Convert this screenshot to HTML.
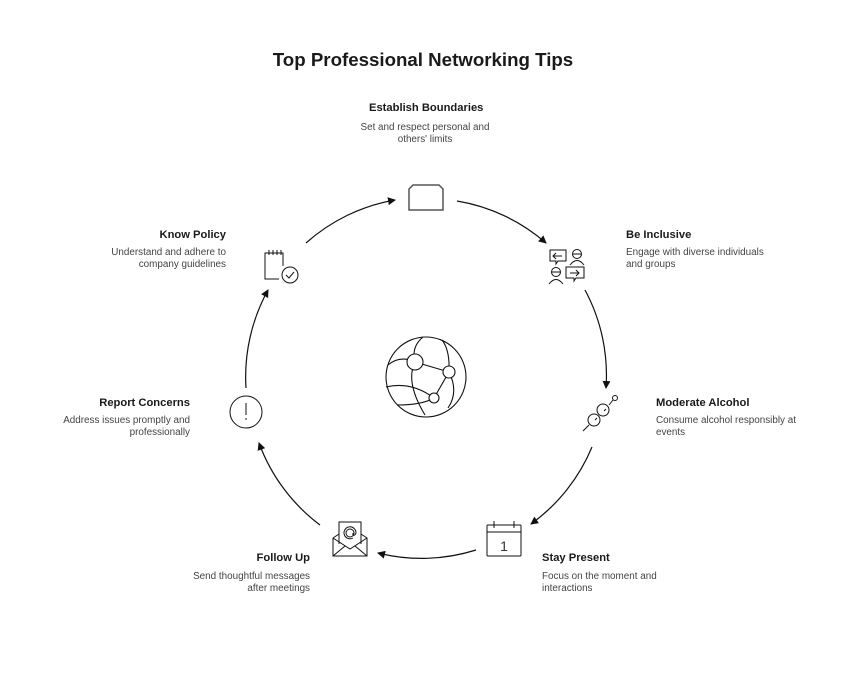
<!DOCTYPE html>
<html><head><meta charset="utf-8"><style>
html,body{margin:0;padding:0;background:#fff;}
body{width:846px;height:678px;position:relative;overflow:hidden;font-family:"Liberation Sans",Arial,sans-serif;color:#1a1a1a;}
.t{position:absolute;font-weight:bold;font-size:11.2px;}
.d{position:absolute;font-size:9.9px;color:#444;line-height:12px;}
.r{text-align:right;}
</style></head><body>
<div style="position:absolute;left:0;width:846px;top:49px;text-align:center;font-weight:bold;font-size:18.7px;">Top Professional Networking Tips</div>

<div class="t" style="left:369px;top:102px;">Establish Boundaries</div>
<div class="d" style="left:340px;width:170px;top:122px;text-align:center;">Set and respect personal and<br>others' limits</div>

<div class="t" style="left:626px;top:229px;">Be Inclusive</div>
<div class="d" style="left:626px;top:247px;">Engage with diverse individuals<br>and groups</div>

<div class="t" style="left:656px;top:397px;">Moderate Alcohol</div>
<div class="d" style="left:656px;top:415px;">Consume alcohol responsibly at<br>events</div>

<div class="t" style="left:542px;top:552px;">Stay Present</div>
<div class="d" style="left:542px;top:571px;">Focus on the moment and<br>interactions</div>

<div class="t r" style="right:536px;top:552px;">Follow Up</div>
<div class="d r" style="right:536px;top:571px;">Send thoughtful messages<br>after meetings</div>

<div class="t r" style="right:656px;top:397px;">Report Concerns</div>
<div class="d r" style="right:656px;top:415px;">Address issues promptly and<br>professionally</div>

<div class="t r" style="right:620px;top:229px;">Know Policy</div>
<div class="d r" style="right:620px;top:247px;">Understand and adhere to<br>company guidelines</div>

<svg width="846" height="678" style="position:absolute;left:0;top:0" fill="none" stroke="#111" stroke-width="1.2">
<defs><marker id="a" markerWidth="8" markerHeight="8" refX="7" refY="4" orient="auto" markerUnits="userSpaceOnUse"><path d="M0,0 L8,4 L0,8z" fill="#111" stroke="none"/></marker></defs>
<g marker-end="url(#a)">
<path d="M306,243 A180,180 0 0 1 395,200"/>
<path d="M457,201 A180,180 0 0 1 546,243"/>
<path d="M585,290 A180,180 0 0 1 606,388"/>
<path d="M592,447 A180,180 0 0 1 531,524"/>
<path d="M476,550 A180,180 0 0 1 378,553"/>
<path d="M320,525 A180,180 0 0 1 259,443"/>
<path d="M246,388 A180,180 0 0 1 268,290"/>
</g>
<path d="M409,210 V189 L413,185 H439 L443,189 V210 Z" stroke="#555" stroke-width="1.5"/>
<g stroke-width="1">
<path d="M550,250 h16 v11 h-8 l-2,3 v-3 h-6z"/><path d="M562,256 h-9 m3,-3 l-3,3 3,3"/>
<circle cx="577" cy="254" r="4.5"/><path d="M572.5,254 h9 M570,265 q7,-9 14,0"/>
<path d="M566,267 h18 v11 h-8 l-2,3 v-3 h-8z"/><path d="M570,273 h9 m-3,-3 l3,3 -3,3"/>
<circle cx="556" cy="272" r="4.5"/><path d="M551.5,272 h9 M549,284 q7,-9 14,0"/>
</g>
<g stroke-width="1"><circle cx="603" cy="410" r="6"/><circle cx="594" cy="420" r="6"/><circle cx="615" cy="398" r="2.5"/><path d="M613,400 L609,405 M589,425 L583,431 M597,418 l-2,2 M606,409 l-2,2"/></g>
<g stroke-width="1"><rect x="487" y="525" width="34" height="31" rx="1"/><path d="M487,532 h34 M494,521 v7 M514,521 v7"/></g>
<text x="504" y="551" font-size="14" fill="#333" stroke="none" text-anchor="middle" font-family="Liberation Sans">1</text>
<g stroke-width="1"><path d="M333,538 v18 h34 v-18 l-6,-4 M333,538 l6,-4 M333,538 l17,11 17,-11 M333,556 l12,-10 M367,556 l-12,-10"/><path d="M339,544 v-22 h22 v22"/><circle cx="350" cy="533" r="4"/><path d="M353,533 v2 q2,1 3,-2 a6,6 0 1 0 -3,5"/></g>
<circle cx="246" cy="412" r="16" stroke-width="1"/><path d="M246,403 v12 M246,418 v2" stroke-width="1"/>
<g stroke-width="1"><path d="M283,266 v-13 h-18 v26 h14"/><path d="M269,250 v5 M273,250 v5 M277,250 v5 M281,250 v5"/><circle cx="290" cy="275" r="8"/><path d="M286,275 l3,3 5,-6"/></g>
<g stroke-width="1.1"><circle cx="426" cy="377" r="40"/>
<path d="M388,365 q12,-10 27,-3 q17,5 34,10 M386,387 q25,-6 48,11 M397,405 q25,0 37,-7 M423,337 q-12,10 -8,25 q-10,20 10,53 M442,340 q8,10 7,32 q10,20 -1,36 M449,372 l-15,26"/>
<circle cx="415" cy="362" r="8" fill="#fff"/><circle cx="449" cy="372" r="6" fill="#fff"/><circle cx="434" cy="398" r="5" fill="#fff"/></g>
</svg>
</body></html>
